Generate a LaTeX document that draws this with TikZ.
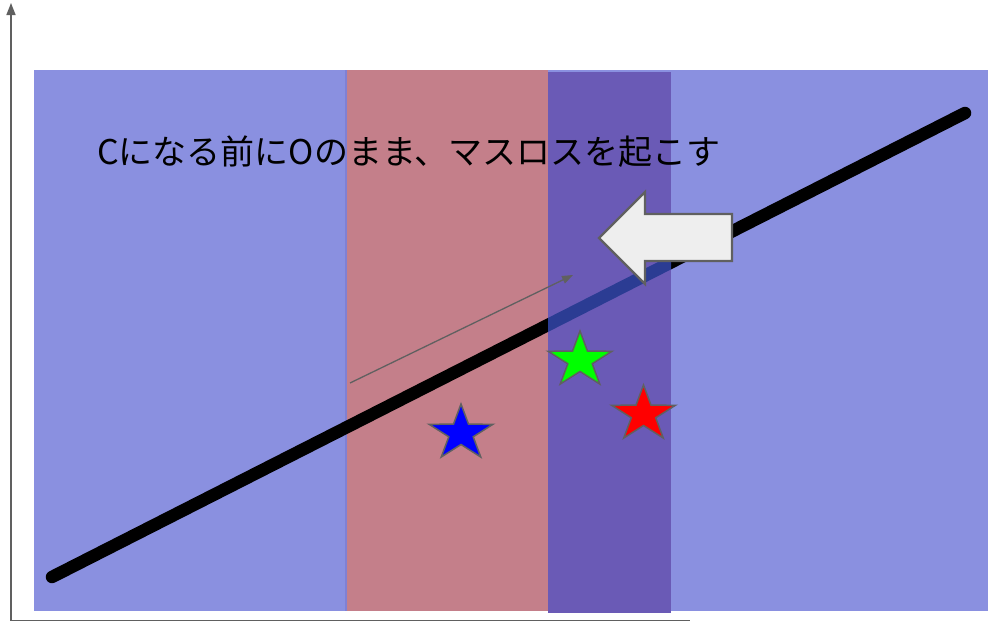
\documentclass[tikz,border=0pt]{standalone}
\usepackage{fontspec}
\newfontfamily\jp{Noto Sans CJK JP}
\usetikzlibrary{arrows.meta}
\definecolor{bgblue}{HTML}{8A90E0}
\definecolor{bandpink}{HTML}{C47F8A}
\definecolor{bandpurple}{HTML}{6A5AB6}
\definecolor{linedark}{HTML}{2B3C93}
\definecolor{axisgray}{HTML}{606060}
\definecolor{arrowfill}{HTML}{EEEEEE}
\tikzset{
  axisline/.style={draw=axisgray, line width=1.5pt},
  thickline/.style={line width=12.5pt, line cap=round},
  starline/.style={draw=axisgray, line width=1.5pt, line join=miter},
  blockarrow/.style={draw=axisgray, fill=arrowfill, line width=2.2pt, line join=miter},
  pics/bigstar/.style={code={
    \path[starline, fill=#1] (-90:29.3)
      \foreach \i in {1,...,9}{ -- ({-90+36*\i}:{mod(\i,2)==0 ? 29.3 : 11.2}) } -- cycle;
  }}
}
\begin{document}
\begin{tikzpicture}[x=1pt,y=-1pt]
\useasboundingbox (0,0) rectangle (992,621);
\fill[white] (0,0) rectangle (992,621);
% background and bands
\fill[bgblue] (34,70) rectangle (988,611);
\fill[bandpink] (347,70) rectangle (548,611);
\draw[draw=bgblue!70!bandpurple, line width=2pt] (346,70) -- (346,611);
% thick line
\coordinate (lineA) at (52,577);
\coordinate (lineB) at (965,113);
\draw[thickline, black] (lineA) -- (lineB);
% purple band over the line
\fill[bandpurple] (548,72) rectangle (671,613);
\begin{scope}
  \clip (548,72) rectangle (671,613);
  \draw[thickline, linedark] (lineA) -- (lineB);
\end{scope}
% axes
\coordinate (origin) at (11,620.5);
\coordinate (ytop) at (11,3);
\coordinate (xend) at (690,620.5);
\draw[axisline, -{Triangle[length=12pt,width=9pt]}] (origin) -- (ytop);
\draw[axisline] (origin) -- (xend);
% thin arrow
\coordinate (thinA) at (350,383);
\coordinate (thinB) at (573,275);
\draw[axisgray, line width=1.3pt, -{Triangle[length=11pt,width=8pt]}] (thinA) -- (thinB);
% block arrow
\path[blockarrow] (599,238) -- (645,192) -- (645,214) -- (732,214) -- (732,261)
  -- (645,261) -- (645,284) -- cycle;
% stars
\pic[xscale=1.147] at (580,360.3) {bigstar=green};
\pic[xscale=1.147] at (643.5,414.3) {bigstar=red};
\pic[xscale=1.147] at (461,433.3) {bigstar=blue};
% text
\node[font=\jp\fontsize{34}{40}\selectfont, inner sep=0pt, anchor=base west] (title) at (97,164) {Cになる前にOのまま、マスロスを起こす};
\end{tikzpicture}
\end{document}
